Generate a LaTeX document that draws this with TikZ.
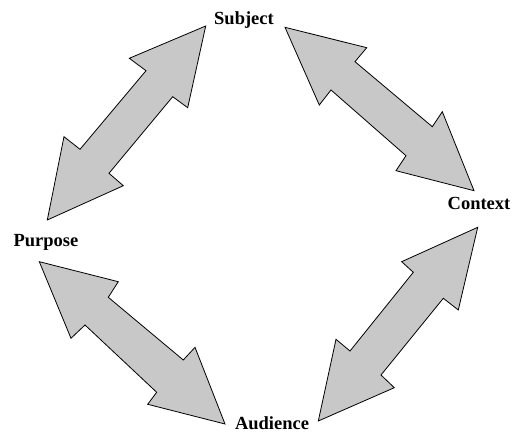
\documentclass[tikz,border=0pt]{standalone}
\usepackage{fontspec}
\setmainfont{Liberation Serif}
\definecolor{arrowgray}{RGB}{200,200,200}
\begin{document}
\begin{tikzpicture}[x=1pt,y=-1pt,
  blockarrow/.style={draw=black,fill=arrowgray,line width=0.8pt,line join=miter},
  lbl/.style={font=\fontsize{18.5}{20}\selectfont\bfseries,inner sep=0pt,anchor=base}]
\useasboundingbox (0,0) rectangle (514,435);
% Subject -- Purpose
\draw[blockarrow] (205.7,26) -- (187.7,107.7) -- (172.7,96.7) -- (109,173.3) -- (123.3,185.7)
  -- (47.3,220) -- (64,136.7) -- (80,149.3) -- (146,70.7) -- (129.3,58.3) -- cycle;
% Subject -- Context
\draw[blockarrow] (285,27.3) -- (366.7,47.7) -- (355,61.7) -- (432.3,126.7) -- (442.3,111.7)
  -- (474,190.7) -- (396,170.7) -- (406,155.7) -- (331,90) -- (319.3,105) -- cycle;
% Purpose -- Audience
\draw[blockarrow] (39.3,261.7) -- (118.3,281.7) -- (108.3,297.3) -- (183.3,360) -- (195,347.3)
  -- (225,424) -- (147.7,404.3) -- (156.7,392.3) -- (85,325) -- (71,338.3) -- cycle;
% Audience -- Context
\draw[blockarrow] (477.7,227.3) -- (458.3,310) -- (443.3,298.3) -- (381,375) -- (394.3,387.7)
  -- (318.3,421) -- (336,339.3) -- (350,351) -- (413.3,272.3) -- (401.7,261.7) -- cycle;
\node[lbl] (subject) at (244,25) {Subject};
\node[lbl] (context) at (479,209.3) {Context};
\node[lbl] (purpose) at (46,246.3) {Purpose};
\node[lbl] (audience) at (272,429.3) {Audience};
\end{tikzpicture}
\end{document}
